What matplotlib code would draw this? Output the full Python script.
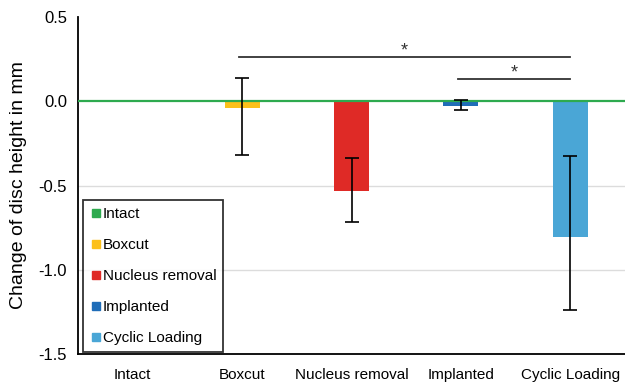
#!/usr/bin/env python3
import numpy as np
import matplotlib; matplotlib.use("Agg")
import matplotlib.pyplot as plt
from matplotlib.lines import Line2D

plt.rcParams.update({"font.family": ["Liberation Sans", "DejaVu Sans"], "font.size": 10})

groups = ["Intact", "Boxcut", "Nucleus removal", "Implanted", "Cyclic Loading"]
means = [0.0, -0.04, -0.535, -0.03, -0.805]
err_lo = [0.0, 0.28, 0.18, 0.023, 0.435]
err_hi = [0.0, 0.18, 0.20, 0.04, 0.48]
colors = ["#2eaa4f", "#fcc01a", "#df2a26", "#1f6db8", "#4aa6d6"]
# significance brackets: (from, to, height)
sig = [(1, 4, 0.262), (3, 4, 0.13)]

fig = plt.figure(figsize=(6.25, 3.85), dpi=100)
ax = fig.add_axes([0.1248, 0.0805, 0.8752, 0.8753])
x = np.arange(len(groups))

for v in (-0.5, -1.0):
    ax.axhline(v, color="#dcdcdc", lw=1, zorder=0)

ax.bar(x[1:], means[1:], width=0.32, color=colors[1:], zorder=2)
ax.axhline(means[0], color=colors[0], lw=1.6, zorder=3)
ax.errorbar(x[1:], means[1:], yerr=[err_lo[1:], err_hi[1:]], fmt="none",
            ecolor="black", elinewidth=1.2, capsize=5, capthick=1.2, zorder=4)

for a, b, h in sig:
    ax.plot([a - 0.03, b], [h, h], color="#333333", lw=1.3)
    ax.text((a + b) / 2 - 0.015, h - 0.015, "*", ha="center", va="bottom", fontsize=13, color="#333333")

ax.set_xlim(-0.5, 4.5)
ax.set_ylim(-1.5, 0.5)
ax.set_yticks([0.5, 0.0, -0.5, -1.0, -1.5])
ax.set_yticklabels(["0.5", "0.0", "-0.5", "-1.0", "-1.5"], fontsize=12)
ax.set_xticks(x)
ax.set_xticklabels(groups, fontsize=11)
ax.tick_params(axis="x", length=0, pad=10)
ax.tick_params(axis="y", length=0, pad=8)
for s in ("top", "right"):
    ax.spines[s].set_visible(False)
for s in ("left", "bottom"):
    ax.spines[s].set_linewidth(1.3)
ax.set_ylabel("Change of disc height in mm", fontsize=14, labelpad=8)

handles = [Line2D([], [], marker="s", ls="none", color=c, markersize=6) for c in colors]
leg = ax.legend(handles, groups, loc="lower left", bbox_to_anchor=(0.01, 0.005),
                fontsize=11, frameon=True, fancybox=False, edgecolor="black",
                handletextpad=0.0, handlelength=0.8, labelspacing=1.12,
                borderpad=0.45, borderaxespad=0)
leg.get_frame().set_linewidth(1.3)

fig.savefig("out.png", dpi=100)
print("OK")
